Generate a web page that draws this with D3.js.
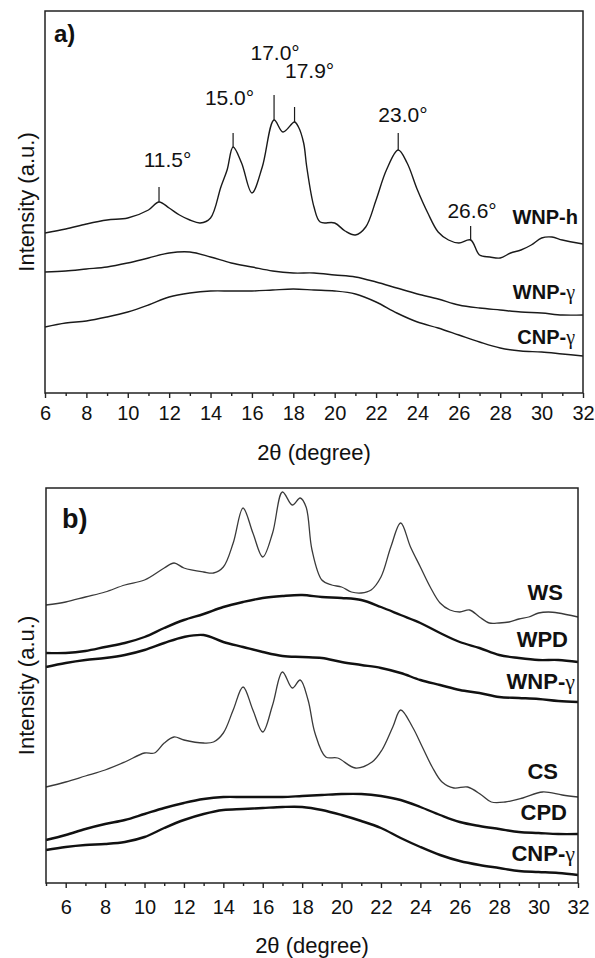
<!DOCTYPE html>
<html>
<head>
<meta charset="utf-8">
<script src="https://cdn.jsdelivr.net/npm/d3@7/dist/d3.min.js"></script>
<style>
  body { margin: 0; background: #fff; }
  text { font-family: "Liberation Sans", Arial, sans-serif; fill: #111; }
</style>
</head>
<body>
<svg id="chart" width="595" height="958"></svg>
<script>
// ---- panel a) data: 2theta (degree) and intensity (a.u., stacked offsets included)
var aTheta = [6,7,8,9,10,11,12,13,14,15,16,17,18,19,20,21,22,23,24,25,26,27,28,29,30,31,32];

var aThetaWNPh = [6,7,8,9,10,11,11.51,12,12.5,13,13.5,14,14.5,14.8,15.09,15.5,16,16.5,17.07,17.5,
    18.06,18.25,18.5,18.65,19,19.3,20,20.5,21,21.5,22,22.5,23.07,23.5,24,24.5,25,25.5,26,26.57,
    27,27.5,28,28.5,29,29.5,30,30.5,31,32];
var aIntWNPh = [160,164,169,173,175,183,191,185,178,173,170,175,206,223,246,230,200,226,273,261,
    271,266,250,226,186,171,170,162,158,166,193,223,243,230,203,180,161,153,150,153,
    138,136,135,140,143,148,155,156,153,149];
var aIntWNPg = [121,122,124,126,130,135,140,141,136,130,126,122,120,120,118,116,111,105,99,94,88,85,83,81,80,78,78];
var aIntCNPg = [66,70,72,76,81,88,96,100,102,102,102,103,104,103,102,99,91,80,71,65,58,51,45,42,41,39,37];

// peak marks of WNP-h
var peakPos = [11.51, 15.09, 17.07, 18.06, 23.07, 26.57];
var peakTop = [206, 260, 298, 286, 260, 167];
var peakBottom = [191, 246, 273, 271, 243, 153];
var peakText = ["11.5\u00b0", "15.0\u00b0", "17.0\u00b0", "17.9\u00b0", "23.0\u00b0", "26.6\u00b0"];
var peakTextAt = [11.92, 14.92, 17.12, 18.79, 23.3, 26.64];
var peakTextInt = [226, 288, 333, 315, 271, 175];

// ---- panel b) data
var bTheta = [5,6,7,8,9,10,11,12,13,14,15,16,17,18,19,20,21,22,23,24,25,26,27,28,29,30,31,32];

var bThetaWS = [5,6,7,8,9,10,11,11.5,12,13,13.5,14,14.5,15,15.5,16,16.5,17,17.5,17.9,18.2,18.5,
    19,19.5,20,20.5,21,21.5,22,22.5,23,23.5,24,24.5,25,25.5,26,26.5,27,27.5,28,28.5,29,29.5,30,30.5,31,32];
var bIntWS = [278,281,286,291,298,303,315,320,315,311,310,316,340,375,350,326,350,391,378,385,376,333,
    303,298,296,291,290,293,306,336,360,336,316,296,280,273,271,273,266,260,260,261,264,266,270,271,270,266];
var bIntWPD = [230,230,232,236,240,246,255,263,269,276,281,285,287,288,286,285,283,276,268,260,250,241,235,228,225,223,223,221];
var bIntWNPg = [216,220,223,225,228,233,240,246,248,241,236,231,227,226,225,221,218,215,210,203,198,193,190,186,185,184,182,181];

var bThetaCS = [5,6,7,8,9,10,10.5,11,11.5,12,13,13.5,14,14.5,15,15.5,16,16.5,17,17.5,17.9,18.3,18.65,
    19.2,19.8,20.7,21.55,22.05,22.6,23,23.6,24.1,24.6,25.1,25.7,26.4,27.1,27.6,28.3,29.2,30.2,31.2,32];
var bIntCS = [96,101,107,113,121,130,130,140,146,143,140,141,150,173,196,173,151,178,211,195,203,183,150,
    126,125,115,121,133,156,173,156,136,116,101,95,96,88,81,81,85,91,88,86];
var bIntCPD = [43,48,54,59,63,69,75,80,84,86,86,86,86,87,88,89,89,87,83,76,68,61,57,54,51,50,49,49];
var bIntCNPg = [33,36,38,39,41,46,55,63,69,73,74,75,76,76,73,68,62,55,45,36,28,22,18,15,12,11,10,8];

var svg = d3.select("#chart");

function drawPanel(p) {
    var x = d3.scaleLinear().domain(p.xDomain).range([p.left, p.right]);
    var y = d3.scaleLinear().domain(p.yDomain).range([p.bottom, p.top]);
    var g = svg.append("g");

    var line = d3.line()
        .x(function (d) { return x(d[0]); })
        .y(function (d) { return y(d[1]); })
        .curve(d3.curveCatmullRom.alpha(0.5));

    p.series.forEach(function (s) {
        g.append("path")
            .datum(d3.zip(s.theta, s.values))
            .attr("d", line)
            .attr("fill", "none")
            .attr("stroke", s.color)
            .attr("stroke-width", s.width)
            .attr("stroke-linejoin", "round");
    });

    // minor + major ticks on bottom
    var minor = [], major = [];
    for (var v = Math.ceil(p.xDomain[0]); v <= p.xDomain[1]; v++) {
        if (v % 2 === 0) major.push(v); else minor.push(v);
    }

    var minorAxis = g.append("g")
        .attr("transform", "translate(0," + p.bottom + ")")
        .call(d3.axisBottom(x).tickValues(minor).tickSize(3).tickFormat(""));
    minorAxis.select(".domain").remove();

    var majorAxis = g.append("g")
        .attr("transform", "translate(0," + p.bottom + ")")
        .call(d3.axisBottom(x).tickValues(major).tickSize(5).tickPadding(p.tickPad).tickFormat(d3.format("d")));
    majorAxis.select(".domain").remove();
    majorAxis.selectAll("text")
        .style("font-size", "20px")
        .style("font-family", "\"Liberation Sans\", Arial, sans-serif")
        .attr("fill", "#111");
    g.selectAll(".tick line").attr("stroke", "#222").attr("stroke-width", 1.4);

    // frame
    g.append("rect")
        .attr("x", p.left).attr("y", p.top)
        .attr("width", p.right - p.left).attr("height", p.bottom - p.top)
        .attr("fill", "none").attr("stroke", "#222").attr("stroke-width", 1.5);

    // axis titles
    g.append("text")
        .attr("x", (p.left + p.right) / 2).attr("y", p.titleY)
        .attr("text-anchor", "middle")
        .style("font-size", "22px")
        .text("2\u03b8 (degree)");
    g.append("text")
        .attr("transform", "translate(34," + ((p.top + p.bottom) / 2) + ") rotate(-90)")
        .attr("text-anchor", "middle")
        .style("font-size", "22px")
        .text("Intensity (a.u.)");

    // panel tag
    g.append("text")
        .attr("x", p.tagX).attr("y", p.tagY)
        .style("font-size", p.tagSize + "px")
        .style("font-weight", "bold")
        .text(p.tag);

    // series labels
    p.labels.forEach(function (l) {
        var t = g.append("text")
            .attr("x", p.right - l.inset)
            .attr("y", y(l.at))
            .attr("text-anchor", "end")
            .style("font-size", p.labelSize + "px")
            .style("font-weight", "bold");
        t.append("tspan").text(l.name);
        if (l.greek) {
            t.append("tspan")
                .style("font-family", "\"Liberation Serif\", \"Times New Roman\", serif")
                .style("font-weight", "normal")
                .text(l.greek);
        }
    });

    return { x: x, y: y, g: g };
}

var a = drawPanel({
    left: 45, right: 583, top: 11, bottom: 393,
    xDomain: [6, 32], yDomain: [0, 382],
    tickPad: 8, titleY: 460,
    tag: "a)", tagX: 54, tagY: 42, tagSize: 24, labelSize: 20,
    series: [
        { theta: aThetaWNPh, values: aIntWNPh, color: "#1a1a1a", width: 1.4 },
        { theta: aTheta, values: aIntWNPg, color: "#1a1a1a", width: 1.4 },
        { theta: aTheta, values: aIntCNPg, color: "#1a1a1a", width: 1.4 }
    ],
    labels: [
        { name: "WNP-h", at: 169, inset: 5 },
        { name: "WNP-", greek: "\u03b3", at: 94, inset: 8 },
        { name: "CNP-", greek: "\u03b3", at: 49, inset: 8 }
    ]
});

// peak markers and labels on WNP-h
peakPos.forEach(function (v, i) {
    a.g.append("line")
        .attr("x1", a.x(v)).attr("x2", a.x(v))
        .attr("y1", a.y(peakBottom[i])).attr("y2", a.y(peakTop[i]))
        .attr("stroke", "#1a1a1a").attr("stroke-width", 1.2);
    a.g.append("text")
        .attr("x", a.x(peakTextAt[i])).attr("y", a.y(peakTextInt[i]))
        .attr("text-anchor", "middle")
        .style("font-size", "21px")
        .text(peakText[i]);
});

drawPanel({
    left: 46, right: 578, top: 488, bottom: 883,
    xDomain: [5, 32], yDomain: [0, 395],
    tickPad: 12, titleY: 953,
    tag: "b)", tagX: 62, tagY: 528, tagSize: 27, labelSize: 22,
    series: [
        { theta: bThetaWS, values: bIntWS, color: "#3a3a3a", width: 1.3 },
        { theta: bTheta, values: bIntWPD, color: "#111", width: 2.4 },
        { theta: bTheta, values: bIntWNPg, color: "#111", width: 2.4 },
        { theta: bThetaCS, values: bIntCS, color: "#3a3a3a", width: 1.3 },
        { theta: bTheta, values: bIntCPD, color: "#111", width: 2.4 },
        { theta: bTheta, values: bIntCNPg, color: "#111", width: 2.4 }
    ],
    labels: [
        { name: "WS", at: 283, inset: 15 },
        { name: "WPD", at: 236, inset: 10 },
        { name: "WNP-", greek: "\u03b3", at: 194, inset: 3 },
        { name: "CS", at: 104, inset: 20 },
        { name: "CPD", at: 63, inset: 11 },
        { name: "CNP-", greek: "\u03b3", at: 22, inset: 3 }
    ]
});
</script>
</body>
</html>
